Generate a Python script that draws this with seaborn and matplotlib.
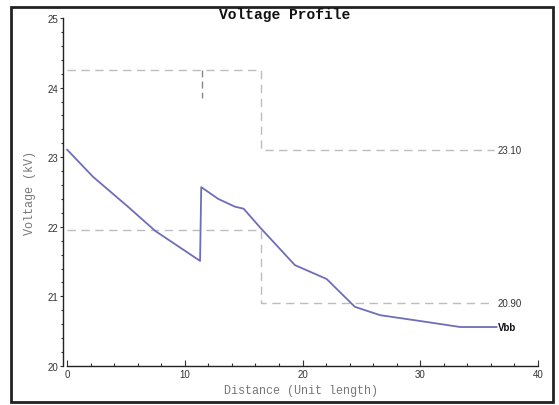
import matplotlib
matplotlib.use("Agg")
import matplotlib.pyplot as plt
import seaborn as sns
import pandas as pd
from matplotlib.patches import Rectangle
from matplotlib.ticker import MultipleLocator

# Vbb voltage profile
dist = [0.0, 2.2, 5.1, 7.5, 11.3, 11.4, 12.85, 14.25, 15.0, 16.4, 19.35, 22.05, 24.45, 26.6, 30.25, 33.4, 36.5]
vbb = [23.11, 22.72, 22.30, 21.94, 21.51, 22.57, 22.40, 22.29, 22.26, 21.99, 21.45, 21.25, 20.85, 20.73, 20.64, 20.56, 20.56]

# Upper / lower limit step lines
limit_x = [0.0, 16.5, 16.5, 36.3]
upper_v = [24.26, 24.26, 23.10, 23.10]
lower_v = [21.95, 21.95, 20.90, 20.90]
marker_x = [11.43, 11.43]
marker_v = [24.26, 23.85]

upper_label = "23.10"
lower_label = "20.90"
series_label = "Vbb"

sns.set_style("white")
fig = plt.figure(figsize=(5.59, 4.06), dpi=100)
ax = fig.add_axes([63 / 559, 1 - 367 / 406, (538 - 63) / 559, (367 - 19) / 406])

kw = dict(ax=ax, sort=False, estimator=None)
sns.lineplot(x=limit_x, y=upper_v, color="#BDBDBD", lw=1.0, linestyle=(0, (6, 4)), **kw)
sns.lineplot(x=limit_x, y=lower_v, color="#BDBDBD", lw=1.0, linestyle=(0, (6, 4)), **kw)
sns.lineplot(x=marker_x, y=marker_v, color="#888888", lw=1.0, linestyle=(0, (5, 3)), **kw)
sns.lineplot(x=dist, y=vbb, color="#6E6EB8", lw=1.3, **kw)

ax.text(36.6, upper_v[-1], upper_label, fontsize=7, color="#333333", va="center", ha="left", family="Liberation Sans")
ax.text(36.6, lower_v[-1], lower_label, fontsize=7, color="#333333", va="center", ha="left", family="Liberation Sans")
ax.text(36.6, vbb[-1], series_label, fontsize=7, color="#111111", va="center", ha="left",
        family="Liberation Sans", fontweight="bold")

ax.set_xlim(-0.34, 40)
ax.set_ylim(20, 25)
ax.spines["top"].set_visible(False)
ax.spines["right"].set_visible(False)
ax.spines["left"].set_bounds(20, 25)
ax.spines["bottom"].set_bounds(0, 40)
for s in ("left", "bottom"):
    ax.spines[s].set_color("#222222")
    ax.spines[s].set_linewidth(1.0)

ax.xaxis.set_major_locator(MultipleLocator(10))
ax.xaxis.set_minor_locator(MultipleLocator(2))
ax.yaxis.set_major_locator(MultipleLocator(1))
ax.yaxis.set_minor_locator(MultipleLocator(0.2))
ax.tick_params(axis="x", which="both", direction="in", bottom=True, colors="#333333", labelsize=7, pad=2)
ax.tick_params(axis="x", which="major", length=4, width=0.8)
ax.tick_params(axis="x", which="minor", length=2.5, width=0.8)
ax.tick_params(axis="y", which="both", direction="out", left=True, colors="#333333", labelsize=7, pad=1)
ax.tick_params(axis="y", which="major", length=2.5, width=0.8)
ax.tick_params(axis="y", which="minor", length=1.5, width=0.8)
for lab in ax.get_xticklabels() + ax.get_yticklabels():
    lab.set_family("Liberation Sans")

ax.set_xlabel("Distance (Unit length)", family="Liberation Mono", fontsize=8.5, color="#777777", labelpad=4)
ax.set_ylabel("Voltage (kV)", family="Liberation Mono", fontsize=8.5, color="#777777", labelpad=8)

fig.text(285 / 559, 1 - 15 / 406, "Voltage Profile", family="Liberation Mono", fontweight="bold",
         fontsize=10.5, color="#111111", ha="center", va="center")

fig.patches.append(Rectangle((11 / 559, 1 - 403 / 406), (553 - 11) / 559, (403 - 8) / 406,
                             transform=fig.transFigure, fill=False, edgecolor="#222222", lw=2.0, zorder=0))

fig.savefig("out.png", dpi=100)
